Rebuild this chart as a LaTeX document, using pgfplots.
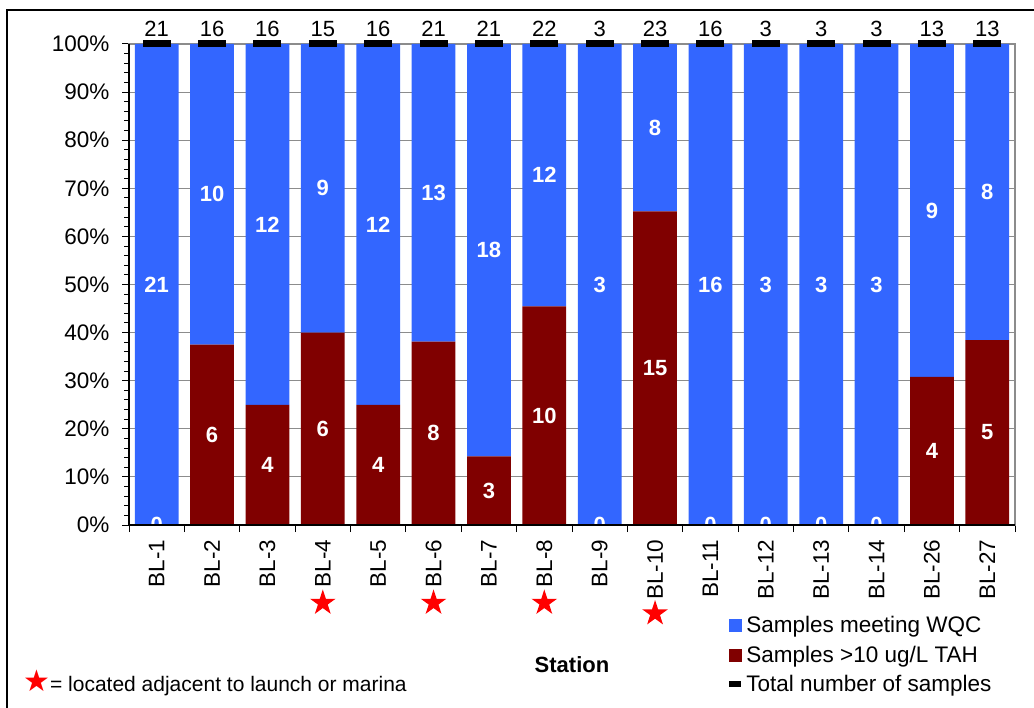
\documentclass[border=0pt]{standalone}
\usepackage{fontspec}
\setmainfont{Liberation Sans}
\newfontfamily\dejavu{DejaVu Sans}
\usepackage{pgfplots}
\usepackage{pgfplotstable}
\pgfplotsset{compat=1.18}
\definecolor{wqc}{HTML}{3366FF}
\definecolor{tah}{HTML}{800000}
\definecolor{gridgray}{HTML}{8C8C8C}

\pgfdeclareplotmark{fstar}{%
  \pgfpathmoveto{\pgfpointpolar{90}{\pgfplotmarksize}}%
  \pgfpathlineto{\pgfpointpolar{126}{0.382\pgfplotmarksize}}%
  \pgfpathlineto{\pgfpointpolar{162}{\pgfplotmarksize}}%
  \pgfpathlineto{\pgfpointpolar{198}{0.382\pgfplotmarksize}}%
  \pgfpathlineto{\pgfpointpolar{234}{\pgfplotmarksize}}%
  \pgfpathlineto{\pgfpointpolar{270}{0.382\pgfplotmarksize}}%
  \pgfpathlineto{\pgfpointpolar{306}{\pgfplotmarksize}}%
  \pgfpathlineto{\pgfpointpolar{342}{0.382\pgfplotmarksize}}%
  \pgfpathlineto{\pgfpointpolar{18}{\pgfplotmarksize}}%
  \pgfpathlineto{\pgfpointpolar{54}{0.382\pgfplotmarksize}}%
  \pgfpathclose
  \pgfusepathqfill}

% red/blue = percentages; rc/bc = sample counts; rpos/bpos = label heights (segment middles)
\pgfplotstableread{
x red   blue  total top rc bc rpos  bpos
0  0     100   21   100 0  21 0     50
1  37.5  62.5  16   100 6  10 18.75 68.75
2  25    75    16   100 4  12 12.5  62.5
3  40    60    15   100 6  9  20    70
4  25    75    16   100 4  12 12.5  62.5
5  38.10 61.90 21   100 8  13 19.05 69.05
6  14.29 85.71 21   100 3  18 7.14  57.14
7  45.45 54.55 22   100 10 12 22.73 72.73
8  0     100   3    100 0  3  0     50
9  65.22 34.78 23   100 15 8  32.61 82.61
10 0     100   16   100 0  16 0     50
11 0     100   3    100 0  3  0     50
12 0     100   3    100 0  3  0     50
13 0     100   3    100 0  3  0     50
14 30.77 69.23 13   100 4  9  15.38 65.38
15 38.46 61.54 13   100 5  8  19.23 69.23
}\data

\pgfplotsset{
  common/.style={
    at={(129pt,-525pt)}, anchor=south west,
    width=886pt, height=481pt, scale only axis,
    xmin=-0.5, xmax=15.5, ymin=0, ymax=100,
  }
}

\begin{document}
\begin{tikzpicture}
\useasboundingbox (0,0) rectangle (1034pt,-708pt);
\draw[line width=2pt] (7pt,-708pt) -- (7pt,-10pt) -- (1034pt,-10pt);

\begin{axis}[common,
  ybar stacked, bar width=0.79,
  xtick={-0.5,0.5,...,15.5}, xticklabels={\empty},
  extra x ticks={0,...,15},
  extra x tick labels={BL-1,BL-2,BL-3,BL-4,BL-5,BL-6,BL-7,BL-8,BL-9,BL-10,BL-11,BL-12,BL-13,BL-14,BL-26,BL-27},
  extra x tick style={major tick length=0pt, grid=none,
     tick label style={yshift=-11pt, rotate=90, anchor=east}},
  ytick={0,10,...,100}, minor y tick num=4,
  yticklabel={\pgfmathprintnumber{\tick}\%},
  yticklabel style={xshift=-9pt},
  tick align=outside, major tick length=7pt, minor tick length=5pt,
  xtick pos=bottom, ytick pos=left,
  ymajorgrids, grid style={gridgray, line width=1pt},
  axis line style={gridgray, line width=1.2pt},
  tick style={black, line width=1pt},
  /pgf/number format/assume math mode=true,
  tick label style={font=\fontsize{22.5}{26}\selectfont},
  xlabel={\bfseries Station},
  xlabel style={at={(axis description cs:0.5,-0.291)}, anchor=center, font=\fontsize{22}{26}\selectfont},
]
\addplot[fill=tah, draw=none] table[x=x, y=red] {\data};
\addplot[fill=wqc, draw=none] table[x=x, y=blue] {\data};
\end{axis}

\begin{axis}[common, hide axis, clip=false,
  legend style={at={(axis description cs:0.674,-0.186)}, anchor=north west,
    draw=none, fill=none, font=\fontsize{22.5}{26}\selectfont, row sep=7.5pt,
    inner sep=0pt},
  legend cell align=left,
  after end axis/.code={\draw[black, line width=1.5pt] (rel axis cs:0,1) -- (rel axis cs:0,0) -- (rel axis cs:1,0);},
]
\addlegendimage{legend image code/.code={\fill[wqc] (0pt,-6pt) rectangle (12pt,6pt);}}
\addlegendentry{Samples meeting WQC}
\addlegendimage{legend image code/.code={\fill[tah] (0pt,-6pt) rectangle (12pt,6pt);}}
\addlegendentry{Samples >10 ug/L TAH}
\addlegendimage{legend image code/.code={\draw[black, line width=6pt] (0pt,0pt) -- (12pt,0pt);}}
\addlegendentry{Total number of samples}

\addplot[forget plot, draw=none, mark=none, nodes near coords, point meta=explicit symbolic,
  nodes near coords style={anchor=center, text=white, font=\bfseries\fontsize{22}{26}\selectfont}]
  table[x=x, y=rpos, meta=rc] {\data};
\addplot[forget plot, draw=none, mark=none, nodes near coords, point meta=explicit symbolic,
  nodes near coords style={anchor=center, text=white, font=\bfseries\fontsize{22}{26}\selectfont}]
  table[x=x, y=bpos, meta=bc] {\data};
\addplot[forget plot, only marks, mark=-, mark size=14pt, mark options={black, line width=7pt},
  nodes near coords, point meta=explicit symbolic,
  nodes near coords style={anchor=base, yshift=7pt, inner sep=0pt, text=black, font=\fontsize{22}{26}\selectfont}]
  table[x=x, y=top, meta=total] {\data};
\addplot[forget plot, only marks, mark=fstar, mark size=13.5pt, red, draw=none]
  coordinates {(3,-16.2) (5,-16.2) (7,-16.2) (9,-18.4)};
\end{axis}

\node[anchor=west, inner sep=0pt, font=\fontsize{21}{25}\selectfont] at (23pt,-683pt)
  {{\dejavu\fontsize{30}{30}\selectfont\color{red}★}= located adjacent to launch or marina};
\end{tikzpicture}
\end{document}
